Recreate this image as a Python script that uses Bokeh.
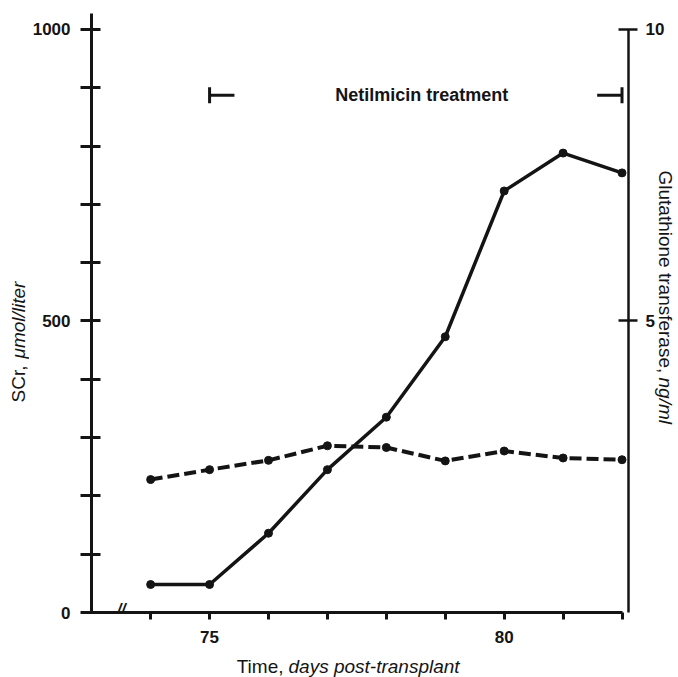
import math
from bokeh.plotting import figure
from bokeh.layouts import row, column
from bokeh.models import Range1d, LinearAxis, FixedTicker, Label
from bokeh.core.properties import value
from bokeh.embed import file_html
from bokeh.resources import INLINE

# ---- data ----
days = [74, 75, 76, 77, 78, 79, 80, 81, 82]
scr = [48, 48, 136, 245, 335, 473, 723, 788, 754]            # SCr, umol/liter (left axis)
gst = [2.28, 2.45, 2.61, 2.86, 2.83, 2.60, 2.77, 2.65, 2.62]  # GST, ng/ml (right axis)
treatment_start = 75
treatment_end = 82
treatment_level = 887
treatment_label = "Netilmicin treatment"
left_ticks = list(range(0, 1001, 100))
left_tick_labels = {0: "0", 500: "500", 1000: "1000"}
right_ticks = [5, 10]
right_tick_labels = ["5", "10"]
x_ticks = list(range(74, 83))
x_tick_labels = {75: "75", 80: "80"}

# ---- layout (pixels) ----
W, H = 678, 677
LS = 29            # left title strip width
RS = 36            # right strip width (tick labels + title)
BS = 25            # bottom title strip height
MW, MH = W - LS - RS, H - BS
FL, FR, FT, FB = 88, 628, 13, 612          # frame edges in page pixels
X0, X1 = 72.996, 82.11
Y1 = 1027.4
FONT = "Liberation Sans"
INK = "#141414"


def bare(fig):
    fig.outline_line_color = None
    fig.xgrid.visible = False
    fig.ygrid.visible = False
    fig.background_fill_color = "white"
    fig.border_fill_color = "white"
    return fig


p = bare(figure(width=MW, height=MH, output_backend="svg", toolbar_location=None,
                title_location=None,
                x_range=Range1d(X0, X1), y_range=Range1d(0, Y1),
                x_axis_location=None, y_axis_location=None,
                min_border_left=FL - LS, min_border_right=(W - RS) - FR,
                min_border_top=FT, min_border_bottom=MH - FB))
p.extra_y_ranges = {"gst": Range1d(0, Y1 / 100.0)}


def style(ax, tin, tout, standoff, lw=3):
    ax.axis_line_width = lw
    ax.axis_line_color = INK
    ax.major_tick_line_width = lw
    ax.major_tick_line_color = INK
    ax.major_tick_in = tin
    ax.major_tick_out = tout
    ax.minor_tick_line_color = None
    ax.major_label_standoff = standoff
    ax.major_label_text_font = FONT
    ax.major_label_text_font_size = "17px"
    ax.major_label_text_font_style = "bold"
    ax.major_label_text_color = INK


left = LinearAxis(ticker=FixedTicker(ticks=left_ticks),
                  major_label_overrides={t: left_tick_labels.get(t, "") for t in left_ticks})
style(left, 9, 11, 10)
p.add_layout(left, "left")

bottom = LinearAxis(ticker=FixedTicker(ticks=x_ticks), bounds=(X0, max(x_ticks)),
                    major_label_overrides={t: x_tick_labels.get(t, "") for t in x_ticks})
style(bottom, 0, 7, 11)
p.add_layout(bottom, "below")

right = LinearAxis(y_range_name="gst", ticker=FixedTicker(ticks=right_ticks), bounds=(0, 10),
                   major_label_overrides={t: "" for t in right_ticks})
style(right, 10, 9, 0, lw=2.5)
p.add_layout(right, "right")

# ---- series ----
p.line(days, scr, line_color=INK, line_width=3.5)
p.scatter(days, scr, size=8, fill_color=INK, line_color=INK)
p.line(days, gst, y_range_name="gst", line_color=INK, line_width=4, line_dash="12 5")
p.scatter(days, gst, y_range_name="gst", size=8, fill_color=INK, line_color=INK)

# ---- treatment bracket ----
stub = 25 * (X1 - X0) / (FR - FL)
half = 8 * Y1 / (FB - FT)
p.segment(x0=[treatment_start, treatment_end - stub], y0=[treatment_level] * 2,
          x1=[treatment_start + stub, treatment_end], y1=[treatment_level] * 2,
          line_color=INK, line_width=3)
p.segment(x0=[treatment_start, treatment_end], y0=[treatment_level - half] * 2,
          x1=[treatment_start, treatment_end], y1=[treatment_level + half] * 2,
          line_color=INK, line_width=3)
p.add_layout(Label(x=(treatment_start + treatment_end) / 2 + 0.1, y=treatment_level,
                   text=treatment_label, text_font=FONT, text_font_size="18px",
                   text_font_style="bold", text_color=INK,
                   text_align="center", text_baseline="middle"))

# ---- axis break mark on the x axis ----
p.add_layout(Label(x=X0 + (118 - FL) * (X1 - X0) / (FR - FL), y=3 * Y1 / (FB - FT),
                   text="//", text_font=FONT, text_font_size="16px",
                   text_font_style="bold italic", text_color=INK,
                   text_align="center", text_baseline="middle"))


def lab(fig, x, y, text, style="normal", angle=0.0, align="left", baseline="alphabetic"):
    fig.add_layout(Label(x=x, y=y, text=text, angle=angle, text_font=FONT,
                         text_font_size="19px", text_font_style=style, text_color=INK,
                         text_align=align, text_baseline=baseline))


def strip(width, height, xr, yr, top=0, bottom_=0):
    return bare(figure(width=width, height=height, output_backend="svg",
                       toolbar_location=None, title_location=None,
                       x_range=xr, y_range=yr,
                       x_axis_location=None, y_axis_location=None,
                       min_border_left=0, min_border_right=0,
                       min_border_top=top, min_border_bottom=bottom_))


# ---- left title strip: frame spans the same rows as the main frame ----
ls = strip(LS, MH, Range1d(0, LS), Range1d(0, FB - FT), FT, MH - FB)
lab(ls, 18, FB - 402, "SCr,", angle=math.pi / 2, baseline="middle")
lab(ls, 18, FB - 358, "μmol/liter", style="italic", angle=math.pi / 2, baseline="middle")

# ---- right strip: GST tick labels + title, same y range as the GST axis ----
gpx = (Y1 / 100.0) / (FB - FT)          # GST units per pixel
rs = strip(RS, MH, Range1d(W - RS, W), Range1d(0, Y1 / 100.0), FT, MH - FB)
rs.text(x=[645] * len(right_ticks), y=right_ticks, text=right_tick_labels,
        text_font=value(FONT), text_font_size="17px", text_font_style="bold",
        text_color=INK, text_align="left", text_baseline="middle")
lab(rs, 665, (FB - 170) * gpx, "Glutathione transferase,", angle=-math.pi / 2, baseline="middle")
lab(rs, 665, (FB - 377) * gpx, "ng/ml", style="italic", angle=-math.pi / 2, baseline="middle")

# ---- bottom title strip ----
bs = strip(W, BS, Range1d(0, W), Range1d(0, BS))
lab(bs, 283, 11, "Time,", align="right")
lab(bs, 288, 11, "days post-transplant", style="italic")

layout = column(row(ls, p, rs, spacing=0), bs, spacing=0)
open("out.html", "w").write(file_html(layout, INLINE))
